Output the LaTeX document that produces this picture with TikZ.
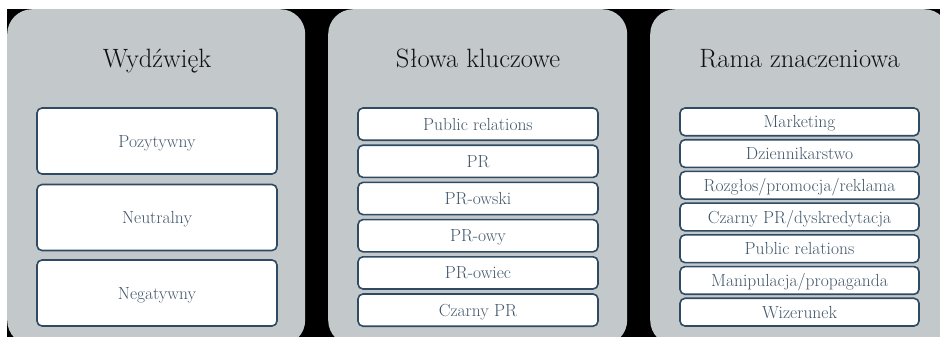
\documentclass[tikz,border=0pt]{standalone}
\usepackage{fontspec}
\definecolor{panelgray}{HTML}{C3C8CB}
\definecolor{boxline}{HTML}{2F4B63}
\definecolor{boxtext}{HTML}{41576B}
\definecolor{titletext}{HTML}{111111}
\begin{document}
\begin{tikzpicture}[x=1pt,y=-1pt,
  panel/.style={fill=panelgray, rounded corners=25pt, draw=none, inner sep=0pt, anchor=north west},
  item/.style={draw=boxline, line width=1.6pt, fill=white, rounded corners=5pt, text=boxtext,
    font=\rmfamily\fontsize{17.5}{21}\selectfont, inner sep=0pt, text height=12pt, text depth=0pt},
  title/.style={text=titletext, font=\rmfamily\fontsize{26.5}{31}\selectfont, inner sep=0pt, anchor=base}]
\useasboundingbox (0,0) rectangle (940,337);
\clip (0,0) rectangle (940,337);
\fill[white] (0,0) rectangle (940,337);
\fill[black] (7,9) rectangle (940,337);
% panels
\node[panel, minimum width=298pt, minimum height=336pt] (p1) at (7,9) {};
\node[panel, minimum width=299pt, minimum height=336pt] (p2) at (328,9) {};
\node[panel, minimum width=299pt, minimum height=336pt] (p3) at (650,9) {};
% titles
\node[title] (t1) at (157,67) {Wydźwięk};
\node[title] (t2) at (478,67) {Słowa kluczowe};
\node[title] (t3) at (799.5,67) {Rama znaczeniowa};
% panel 1
\tikzset{w1/.style={item, minimum width=240pt, minimum height=66pt}}
\node[w1] (a1) at (157,141) {Pozytywny};
\node[w1] (a2) at (157,217.5) {Neutralny};
\node[w1] (a3) at (157,293) {Negatywny};
% panel 2
\tikzset{w2/.style={item, minimum width=240pt, minimum height=32.2pt}}
\node[w2] (b1) at (478,124.1) {Public relations};
\node[w2] (b2) at (478,161.3) {PR};
\node[w2] (b3) at (478,198.5) {PR-owski};
\node[w2] (b4) at (478,235.7) {PR-owy};
\node[w2] (b5) at (478,272.9) {PR-owiec};
\node[w2] (b6) at (478,310.1) {Czarny PR};
% panel 3
\tikzset{w3/.style={item, minimum width=239pt, minimum height=27.7pt}}
\node[w3] (c1) at (799.5,121.86) {Marketing};
\node[w3] (c2) at (799.5,153.57) {Dziennikarstwo};
\node[w3] (c3) at (799.5,185.29) {Rozgłos/promocja/reklama};
\node[w3] (c4) at (799.5,217.0) {Czarny PR/dyskredytacja};
\node[w3] (c5) at (799.5,248.71) {Public relations};
\node[w3] (c6) at (799.5,280.43) {Manipulacja/propaganda};
\node[w3] (c7) at (799.5,312.14) {Wizerunek};
\end{tikzpicture}
\end{document}
